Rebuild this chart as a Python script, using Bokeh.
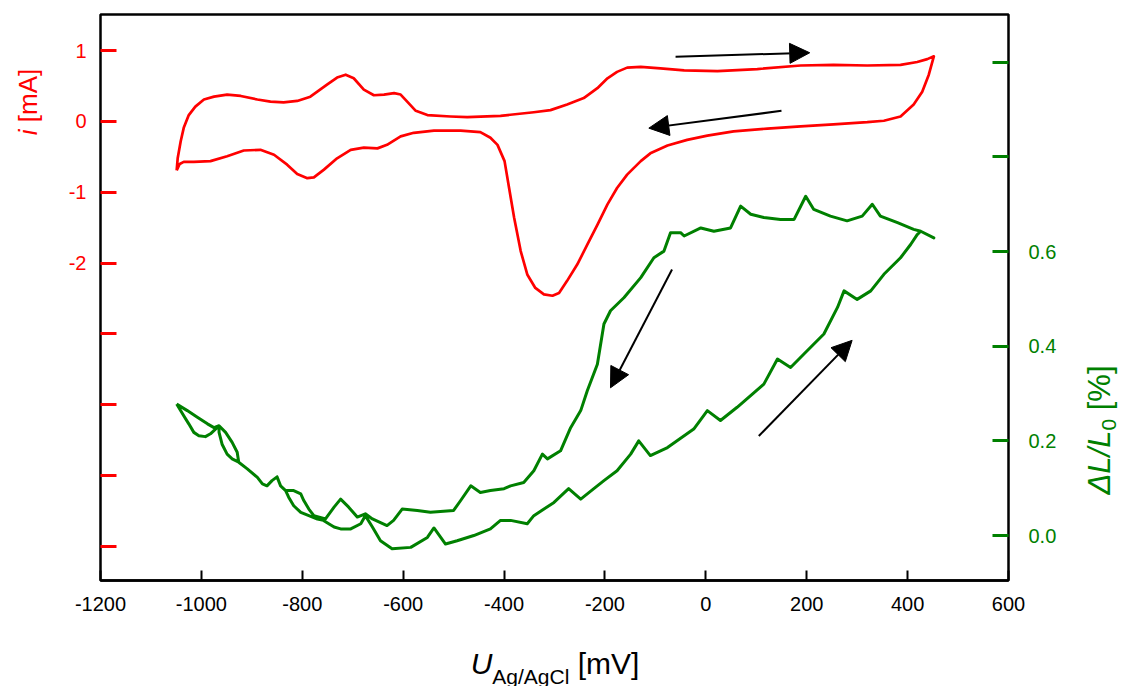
from bokeh.plotting import figure
from bokeh.layouts import row, column
from bokeh.models import (Range1d, LinearAxis, FixedTicker, Arrow, NormalHead, Div,
                          CustomJSTickFormatter)
from bokeh.embed import file_html
from bokeh.resources import INLINE

# ---------------- data ----------------
# cyclic voltammogram (red): potential [mV] vs current [mA], in sweep order
cv_mv = [-1049, -1047, -1041, -1035, -1025, -1012, -995, -975, -949, -922,
         -889, -863, -837, -810, -784, -751, -731, -714, -698, -678,
         -658, -638, -618, -605, -592, -575, -552, -506, -473, -407,
         -341, -308, -275, -242, -215, -195, -176, -156, -129, -90,
         -43, 23, 102, 188, 253, 320, 386, 419, 439, 452,
         442, 429, 412, 386, 353, 320, 253, 188, 122, 55,
         3, -37, -76, -110, -129, -156, -176, -195, -215, -235,
         -255, -275, -291, -304, -321, -338, -354, -367, -380, -390,
         -399, -413, -427, -447, -486, -539, -579, -605, -632, -651,
         -678, -704, -731, -757, -777, -790, -810, -830, -856, -883,
         -916, -949, -982, -1015, -1035, -1043, -1049]
cv_ma = [-0.69, -0.52, -0.28, -0.09, 0.09, 0.21, 0.31, 0.35, 0.38, 0.36,
         0.31, 0.28, 0.27, 0.29, 0.35, 0.52, 0.62, 0.66, 0.61, 0.45,
         0.37, 0.38, 0.40, 0.38, 0.28, 0.15, 0.09, 0.07, 0.06, 0.08,
         0.13, 0.16, 0.24, 0.33, 0.47, 0.61, 0.70, 0.76, 0.77, 0.75,
         0.72, 0.71, 0.74, 0.79, 0.80, 0.79, 0.80, 0.84, 0.88, 0.92,
         0.66, 0.42, 0.24, 0.07, 0.01, -0.01, -0.04, -0.07, -0.10, -0.14,
         -0.20, -0.26, -0.34, -0.45, -0.56, -0.75, -0.94, -1.17, -1.46, -1.74,
         -2.02, -2.25, -2.42, -2.46, -2.44, -2.35, -2.16, -1.83, -1.36, -0.94,
         -0.56, -0.33, -0.23, -0.15, -0.13, -0.13, -0.16, -0.21, -0.33, -0.38,
         -0.37, -0.40, -0.52, -0.68, -0.79, -0.80, -0.74, -0.61, -0.47, -0.40,
         -0.41, -0.49, -0.56, -0.57, -0.57, -0.60, -0.69]

# strain (green): anodic sweep then cathodic sweep, potential [mV] vs dL/L0 [%]
strain_mv = [-1049, -1035, -1025, -1015, -1005, -992, -982, -972, -965, -965,
             -959, -949, -939, -926, -909, -889, -879, -870, -860, -850,
             -843, -833, -827, -817, -803, -787, -770, -758, -737, -724,
             -704, -684, -675, -661, -645, -622, -585, -552, -539, -516,
             -493, -460, -427, -407, -387, -354, -341, -301, -272, -248,
             -222, -202, -176, -149, -133, -110, -76, -24, 3, 29,
             62, 115, 142, 168, 194, 234, 261, 274, 300, 327,
             353, 386, 406, 419, 426, 452,
             426, 412, 380, 346, 330, 310, 280, 247, 214, 198,
             175, 148, 115, 89, 69, 49, 16, -10, -43, -50,
             -70, -83, -103, -129, -162, -189, -202, -215, -235, -248,
             -268, -288, -314, -324, -341, -361, -387, -400, -427, -447,
             -466, -486, -500, -546, -572, -602, -619, -632, -661, -675,
             -691, -708, -724, -737, -754, -777, -787, -797, -803, -817,
             -833, -843, -850, -860, -870, -879, -889, -909, -926, -929,
             -939, -952, -965, -975, -988, -1008, -1028, -1049]
strain_pct = [0.278, 0.253, 0.236, 0.218, 0.211, 0.209, 0.215, 0.225, 0.232, 0.218,
              0.193, 0.172, 0.162, 0.155, 0.141, 0.123, 0.109, 0.105, 0.116, 0.124,
              0.105, 0.095, 0.081, 0.063, 0.049, 0.042, 0.035, 0.032, 0.018, 0.014,
              0.014, 0.025, 0.042, 0.018, -0.011, -0.028, -0.025, -0.004, 0.016, -0.018,
              -0.011, 0.000, 0.014, 0.032, 0.032, 0.025, 0.042, 0.070, 0.099, 0.077,
              0.099, 0.116, 0.137, 0.172, 0.200, 0.169, 0.186, 0.225, 0.264, 0.243,
              0.271, 0.320, 0.373, 0.355, 0.383, 0.426, 0.482, 0.517, 0.499, 0.517,
              0.552, 0.587, 0.615, 0.636, 0.643, 0.629,
              0.643, 0.647, 0.661, 0.675, 0.700, 0.675, 0.665, 0.675, 0.689, 0.717,
              0.668, 0.668, 0.672, 0.679, 0.696, 0.650, 0.643, 0.650, 0.633, 0.640,
              0.640, 0.601, 0.587, 0.545, 0.503, 0.475, 0.447, 0.362, 0.306, 0.264,
              0.228, 0.179, 0.162, 0.172, 0.137, 0.112, 0.105, 0.099, 0.095, 0.091,
              0.105, 0.074, 0.053, 0.049, 0.053, 0.056, 0.032, 0.021, 0.035, 0.046,
              0.039, 0.060, 0.077, 0.060, 0.035, 0.042, 0.056, 0.074, 0.088, 0.095,
              0.095, 0.105, 0.124, 0.116, 0.105, 0.109, 0.123, 0.141, 0.155, 0.176,
              0.197, 0.218, 0.232, 0.228, 0.236, 0.250, 0.264, 0.278]

x_ticks = [-1200, -1000, -800, -600, -400, -200, 0, 200, 400, 600]
i_ticks_labeled = [-2, -1, 0, 1]
i_ticks_unlabeled = [-6, -5, -4, -3]
s_ticks_labeled = [0.0, 0.2, 0.4, 0.6]
s_ticks_unlabeled = [0.8, 1.0]

RED = "#ff0000"
GREEN = "#008000"
FONT = "Liberation Sans"
TICK_SIZE = "20px"

fig = figure(width=1003, height=630, output_backend="svg", toolbar_location=None,
             title=None, margin=(0, 0, 0, 0),
             x_range=Range1d(-1200, 600), y_range=Range1d(-6.48, 1.51),
             min_border_left=38, min_border_right=57,
             min_border_top=14, min_border_bottom=50)
fig.extra_y_ranges = {"strain": Range1d(-0.095, 1.101)}
fig.grid.visible = False
fig.outline_line_color = "black"
fig.outline_line_width = 2.5
fig.outline_line_alpha = 1.0
fig.background_fill_color = "white"
fig.border_fill_color = "white"

# bottom axis
xa = fig.xaxis[0]
xa.ticker = FixedTicker(ticks=x_ticks)
xa.formatter = CustomJSTickFormatter(code="return tick.toFixed(0);")
xa.axis_line_color = "black"
xa.axis_line_width = 2.5
xa.major_tick_in = 10
xa.major_tick_out = 0
xa.major_tick_line_width = 2
xa.major_tick_line_color = "black"
xa.minor_tick_line_color = None
xa.major_label_text_font = FONT
xa.major_label_text_font_size = TICK_SIZE
xa.major_label_text_color = "black"
xa.major_label_standoff = 16

# left axis (current)
ya = fig.yaxis[0]
ya.ticker = FixedTicker(ticks=i_ticks_labeled, minor_ticks=i_ticks_unlabeled)
ya.formatter = CustomJSTickFormatter(code="return tick.toFixed(0);")
ya.axis_line_color = None
ya.major_tick_in = 16
ya.major_tick_out = 0
ya.minor_tick_in = 16
ya.minor_tick_out = 0
ya.major_tick_line_color = RED
ya.minor_tick_line_color = RED
ya.major_tick_line_width = 3
ya.minor_tick_line_width = 3
ya.major_label_text_font = FONT
ya.major_label_text_font_size = TICK_SIZE
ya.major_label_text_color = RED
ya.major_label_standoff = 14

# right axis (strain)
ra = LinearAxis(y_range_name="strain",
                ticker=FixedTicker(ticks=s_ticks_labeled, minor_ticks=s_ticks_unlabeled),
                formatter=CustomJSTickFormatter(code="return tick.toFixed(1);"))
ra.axis_line_color = None
ra.major_tick_in = 16
ra.major_tick_out = 0
ra.minor_tick_in = 16
ra.minor_tick_out = 0
ra.major_tick_line_color = GREEN
ra.minor_tick_line_color = GREEN
ra.major_tick_line_width = 3
ra.minor_tick_line_width = 3
ra.major_label_text_font = FONT
ra.major_label_text_font_size = TICK_SIZE
ra.major_label_text_color = GREEN
ra.major_label_standoff = 20
fig.add_layout(ra, "right")

# curves
fig.line(cv_mv, cv_ma, line_color=RED, line_width=2.7, line_join="round")
fig.line(strain_mv, strain_pct, line_color=GREEN, line_width=3, line_join="round",
         y_range_name="strain")

# arrows (x in mV, y in mA)
def arrow(xs, ys, xe, ye):
    fig.add_layout(Arrow(end=NormalHead(size=20, fill_color="black", line_color="black", line_width=1),
                         x_start=xs, y_start=ys, x_end=xe, y_end=ye,
                         line_color="black", line_width=2))

arrow(-60, 0.915, 206, 0.97)
arrow(150, 0.15, -113, -0.094)
arrow(-67, -2.09, -189, -3.76)
arrow(105, -4.44, 290, -3.09)

# ---------------- axis titles as real HTML text ----------------
FONT_CSS = "font-family:'Liberation Sans', Arial, sans-serif;"

left_html = (
    '<div style="position:relative; width:62px; height:630px;">'
    '<div style="position:absolute; left:-32px; top:87px; width:120px; height:30px; '
    'line-height:30px; text-align:center; white-space:nowrap; transform:rotate(-90deg); '
    + FONT_CSS + ' font-size:26px; color:#ff0000;"><i>i</i> [mA]</div></div>'
)
right_html = (
    '<div style="position:relative; width:58px; height:630px;">'
    '<div style="position:absolute; left:-55px; top:413px; width:180px; height:34px; '
    'line-height:34px; text-align:center; white-space:nowrap; transform:rotate(-90deg); '
    + FONT_CSS + ' font-size:31px; color:#008000;"><i>\u0394L/L</i>'
    '<span style="font-size:21px; line-height:1; vertical-align:-6px;">0</span> [%]</div></div>'
)
bottom_html = (
    '<div style="position:relative; width:1123px; height:56px;">'
    '<div style="position:absolute; left:0px; top:14px; width:1110px; height:40px; '
    'line-height:40px; text-align:center; white-space:nowrap; '
    + FONT_CSS + ' font-size:30px; color:#000000;"><i>U</i>'
    '<span style="font-size:21px; line-height:1; vertical-align:-10px;">Ag/AgCl</span> [mV]</div></div>'
)

left_div = Div(text=left_html, width=62, height=630, margin=(0, 0, 0, 0))
right_div = Div(text=right_html, width=58, height=630, margin=(0, 0, 0, 0))
bottom_div = Div(text=bottom_html, width=1123, height=56, margin=(0, 0, 0, 0))

layout = column(row(left_div, fig, right_div, spacing=0, margin=(0, 0, 0, 0)),
                bottom_div, spacing=0, margin=(0, 0, 0, 0))

open("out.html", "w").write(file_html(layout, INLINE))
